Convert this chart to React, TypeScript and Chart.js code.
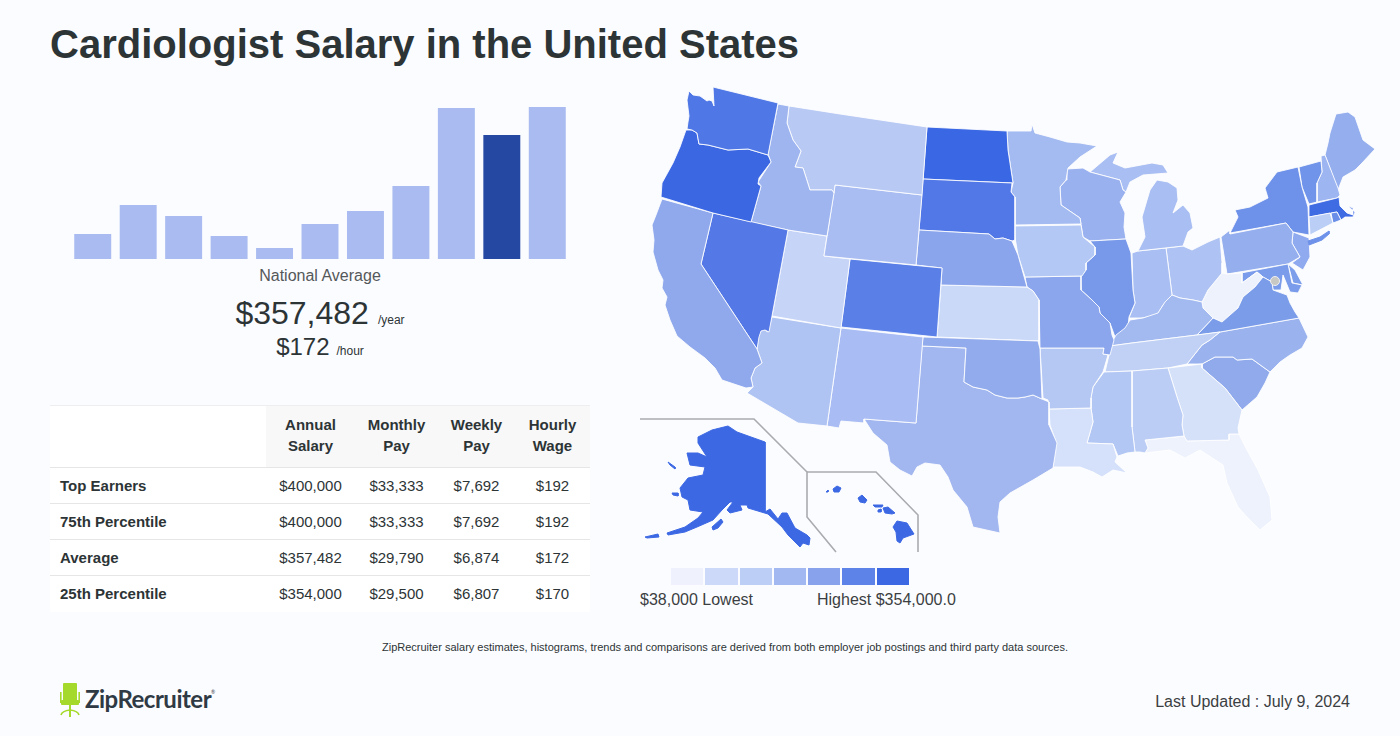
import React, { useEffect, useRef } from "react";
import { Chart, registerables } from "chart.js";

Chart.register(...registerables);

// Histogram
const histogramBins = ["1", "2", "3", "4", "5", "6", "7", "8", "9", "10", "11"];
const histogramCounts = [25, 54, 43, 23, 11, 35, 48, 73, 151, 124, 152];
const highlightedBin = 9;

// Table
const tableColumns = [["Annual", "Salary"], ["Monthly", "Pay"], ["Weekly", "Pay"], ["Hourly", "Wage"]];
const rowLabels = ["Top Earners", "75th Percentile", "Average", "25th Percentile"];
const annualSalary = ["$400,000", "$400,000", "$357,482", "$354,000"];
const monthlyPay = ["$33,333", "$33,333", "$29,790", "$29,500"];
const weeklyPay = ["$7,692", "$7,692", "$6,874", "$6,807"];
const hourlyWage = ["$192", "$192", "$172", "$170"];

// Legend
const legendShades = ["#eff2fd", "#ccd9f8", "#bccdf6", "#a2b8f0", "#88a3ec", "#5d82e8", "#3c68e3"];

// State outlines (map units), x,y pairs
const WA = [689,91,693,95,700,96,707,101,709,100,712,101,714,106,713,87,778,103,768,155,748,149,728,150,708,145,699,144,697,133,692,130,687,129,688,122,689,116,687,100];
const OR = [686,130,692,130,697,133,699,144,708,145,728,150,748,149,768,155,771,162,759,178,758,184,761,186,751,222,713,213,661,197,662,183,673,163,680,147];
const CA = [662,199,713,213,701,264,757,349,762,363,755,368,751,378,753,387,746,388,722,380,715,368,705,358,690,347,677,336,670,320,665,305,667,297,662,288,663,280,658,270,653,252,654,240,652,225,656,215];
const NV = [713,213,788,230,769,332,765,330,761,331,759,337,757,349,701,264];
const ID = [778,104,789,106,787,123,793,140,801,151,795,167,803,168,810,190,832,190,834,193,827,236,788,230,751,222,761,186,758,182,771,162,768,154];
const MT = [789,106,840,114,927,127,922,195,835,185,834,193,832,190,810,190,803,168,795,167,801,151,793,140,787,123];
const WY = [835,185,922,195,916,265,824,256];
const UT = [788,230,827,236,824,256,850,259,841,328,772,316];
const CO = [850,259,942,268,937,337,841,327];
const AZ = [772,317,841,328,827,426,798,423,747,393,753,387,751,378,755,368,762,363,757,349,759,332,763,329,768,332];
const NM = [841,328,923,337,916,423,864,419,864,423,841,421,839,428,827,426];
const OK = [923,337,1038,341,1040,349,1042,399,1033,395,1025,397,1018,398,1007,398,995,395,987,390,973,387,964,382,966,348,922,346];
const TX = [922,346,966,348,964,382,973,387,987,390,995,395,1007,398,1018,398,1025,397,1033,395,1042,399,1049,402,1049,425,1057,443,1053,468,1033,480,1010,493,1000,502,998,517,1000,533,973,527,967,507,953,490,948,477,940,465,925,463,917,467,912,476,900,470,890,462,887,445,873,433,864,419,916,423];
const NE = [919,230,989,234,995,239,1003,238,1012,241,1018,255,1027,287,941,285,942,268,916,265];
const KS = [941,285,1027,287,1033,291,1039,300,1039,341,937,337];
const SD = [923,179,1012,183,1011,192,1015,197,1015,240,1012,241,1003,238,995,239,989,234,919,230];
const ND = [927,127,1007,131,1008,150,1013,183,923,179];
const MN = [1007,131,1031,131,1032,124,1035,133,1050,137,1067,142,1080,143,1097,146,1080,157,1068,168,1066,180,1060,187,1061,205,1080,218,1081,224,1015,225,1015,197,1011,192,1013,183,1008,150];
const IA = [1013,226,1081,225,1083,237,1095,247,1095,255,1086,263,1086,270,1082,276,1025,277,1018,255];
const MO = [1025,277,1081,276,1081,290,1092,300,1099,307,1100,313,1110,323,1112,335,1114,340,1110,355,1103,354,1104,348,1040,348,1039,300,1033,291,1027,287];
const AR = [1040,348,1104,348,1103,354,1108,355,1103,372,1093,387,1091,398,1091,408,1049,409,1048,400,1043,398];
const LA = [1049,409,1091,408,1093,422,1087,443,1113,444,1117,457,1115,462,1127,473,1113,470,1102,477,1093,472,1080,467,1063,467,1053,467,1056,442,1050,425];
const MS = [1104,372,1132,371,1132,427,1135,452,1127,453,1118,456,1113,444,1087,443,1093,422,1091,408,1091,397,1093,387];
const AL = [1132,371,1168,368,1177,397,1183,415,1182,425,1184,436,1145,440,1148,448,1145,453,1140,452,1135,452,1132,427];
const GA = [1168,368,1202,364,1202,368,1210,375,1225,388,1242,410,1238,428,1239,434,1229,434,1229,440,1187,441,1184,436,1182,425,1183,415,1177,397];
const FL = [1145,440,1184,436,1187,441,1229,440,1229,434,1239,434,1247,450,1258,470,1270,497,1272,520,1260,530,1247,517,1238,507,1227,483,1223,465,1200,450,1185,458,1170,450,1145,453,1148,448];
const TN = [1105,372,1109,355,1110,346,1132,343,1197,335,1220,332,1210,340,1202,345,1187,364,1168,368,1132,371];
const KY = [1110,346,1116,335,1125,328,1130,320,1143,318,1158,313,1165,302,1172,295,1180,298,1193,300,1202,302,1203,308,1213,318,1197,335,1132,343];
const IL = [1090,241,1126,239,1131,253,1133,290,1135,303,1129,317,1128,327,1125,330,1123,335,1115,337,1110,323,1100,313,1099,307,1092,300,1081,290,1080,277,1086,270,1086,263,1095,255,1095,247];
const WI = [1067,169,1083,168,1090,172,1120,180,1123,190,1126,192,1120,202,1125,213,1124,227,1126,239,1090,241,1083,237,1080,218,1061,205,1060,187,1066,180];
const MI_UPPER = [1090,172,1110,155,1118,152,1113,163,1125,168,1152,163,1163,165,1168,173,1143,175,1130,182,1126,192,1123,190,1120,180];
const MI_LOWER = [1142,217,1150,190,1157,180,1168,182,1177,188,1178,200,1173,213,1183,205,1190,213,1193,228,1188,232,1183,246,1138,251,1145,237];
const IN = [1132,253,1138,251,1166,248,1172,295,1163,305,1157,315,1142,318,1129,318,1135,303,1133,290];
const OH = [1166,248,1183,246,1192,250,1208,242,1220,237,1222,263,1222,273,1208,290,1202,302,1193,300,1180,298,1172,295];
const WV = [1227,274,1242,273,1242,283,1257,272,1263,277,1255,287,1243,297,1238,308,1222,322,1213,318,1203,308,1202,302,1208,290,1222,273];
const VA = [1213,318,1222,322,1238,308,1243,297,1255,287,1263,277,1272,282,1273,290,1287,295,1290,303,1295,312,1299,318,1220,332,1197,335];
const NC = [1220,332,1299,318,1308,337,1302,348,1290,355,1280,362,1270,372,1252,359,1237,360,1233,357,1215,357,1202,364,1187,364,1202,345,1210,340];
const SC = [1202,364,1215,357,1233,357,1237,360,1252,359,1270,372,1265,383,1257,397,1242,410,1225,388,1210,375,1202,368];
const MD = [1241,273,1288,264,1292,283,1302,285,1298,293,1290,292,1283,275,1281,290,1273,290,1272,282,1263,277,1257,272,1242,283];
const DE = [1288,264,1295,270,1303,285,1293,283];
const PA = [1221,237,1230,230,1230,234,1286,223,1293,232,1292,243,1300,257,1288,264,1227,274];
const NY = [1230,233,1238,217,1235,210,1250,207,1268,198,1265,188,1277,172,1298,167,1302,187,1308,207,1309,235,1293,232,1286,223];
const NY_LONG_ISLAND = [1308,241,1320,237,1329,231,1329,234,1322,240,1309,245];
const NJ = [1293,232,1309,238,1310,257,1303,270,1292,263,1300,257,1292,243];
const CT = [1309,217,1330,213,1333,223,1310,235];
const RI = [1331,213,1337,212,1341,220,1333,223];
const MA = [1309,205,1337,198,1339,197,1340,206,1347,213,1353,215,1353,208,1348,206,1355,212,1353,217,1345,217,1341,220,1337,212,1309,217];
const VT = [1299,167,1321,161,1322,172,1317,183,1317,202,1309,204,1302,187];
const NH = [1321,156,1325,155,1338,188,1340,195,1337,198,1317,202,1317,183,1322,172];
const ME = [1330,133,1336,114,1348,112,1355,117,1363,140,1375,149,1362,163,1355,170,1343,177,1338,190,1325,155,1328,143];
const AK = [698,437,712,430,728,426,737,432,765,442,765,512,770,509,778,519,782,513,787,513,795,528,807,535,810,538,809,545,803,543,800,547,795,542,788,535,782,527,768,514,748,508,747,505,740,505,742,510,730,513,727,510,733,502,730,502,722,510,713,520,697,527,685,532,668,535,667,533,685,527,698,518,703,512,690,510,688,500,682,497,680,488,688,478,703,475,705,467,690,465,687,453,698,453,707,457,698,443];
const AK_KODIAK = [712,527,721,519,723,522,718,528,713,530];
const AK_ALEUTIAN = [645,537,658,534,659,537,647,538];
const AK_LAWRENCE = [668,462,675,467,675,469,670,465];
const AK_NUNIVAK = [672,493,678,493,678,496,673,495];
const HI_BIG = [893,527,897,521,907,523,914,534,903,538,900,543,897,541,896,532];
const HI_MAUI = [883,508,888,507,895,513,892,514,885,513];
const HI_MOLOKAI = [873,505,883,505,882,507,875,507];
const HI_LANAI = [878,510,881,509,881,512,878,512];
const HI_OAHU = [858,498,862,495,867,500,865,503,860,502];
const HI_KAUAI = [833,489,837,486,841,488,839,492,834,492];
const HI_NIIHAU = [826,492,828,490,828,492];
const ALASKA_INSET = [640,419,754,419,807,472,807,517,836,552];
const HAWAII_INSET = [807,472,876,472,918,515,918,552];
const DC_POINT = [1275,281];

const ALASKA_HAWAII = "#3c68e3";
const mapShapes: [number[], string, boolean?][] = [
  [WA, "#4f78e6"], [OR, "#3b67e3"], [CA, "#8fa9ec"], [NV, "#5478e5"], [ID, "#9eb5f0"], [MT, "#b8c9f4"],
  [WY, "#a9bdf2"], [UT, "#c6d4f7"], [CO, "#5a80e8"], [AZ, "#b0c4f3"], [NM, "#a9bcf3"], [OK, "#92abec"],
  [TX, "#a2b7f0"], [NE, "#8aa5ec"], [KS, "#cbd9f8"], [SD, "#5277e6"], [ND, "#3a67e3"], [MN, "#a4bbf1"],
  [IA, "#b3c8f4"], [MO, "#8ba6ec"], [AR, "#b5c8f3"], [LA, "#d5e0fa"], [MS, "#b3c7f4"], [AL, "#bbcdf5"],
  [GA, "#d5e0f9"], [FL, "#eef2fd"], [TN, "#c0d1f5"], [KY, "#a3baf1"], [IL, "#7899e9"], [WI, "#9ab1ef"],
  [MI_UPPER, "#a9bef2"], [MI_LOWER, "#a9bef2"], [IN, "#a9bff3"], [OH, "#aec3f3"], [VA, "#7a9ce9"],
  [WV, "#eef2fd"], [NC, "#9ab3ef"], [SC, "#90aaec"], [MD, "#7a9cea"], [DE, "#7d9eea"], [PA, "#94aeee"],
  [NY, "#6e91e9"], [NY_LONG_ISLAND, "#6e91e9", true], [NJ, "#8faaee"], [CT, "#bbcff6"], [RI, "#6b8fe8"],
  [MA, "#3f6be3"], [VT, "#7094e9"], [NH, "#9db5f0"], [ME, "#94aeee"],
  [AK, ALASKA_HAWAII, true], [AK_KODIAK, ALASKA_HAWAII, true], [AK_ALEUTIAN, ALASKA_HAWAII, true],
  [AK_LAWRENCE, ALASKA_HAWAII, true], [AK_NUNIVAK, ALASKA_HAWAII, true],
  [HI_BIG, ALASKA_HAWAII, true], [HI_MAUI, ALASKA_HAWAII, true], [HI_MOLOKAI, ALASKA_HAWAII, true],
  [HI_LANAI, ALASKA_HAWAII, true], [HI_OAHU, ALASKA_HAWAII, true], [HI_KAUAI, ALASKA_HAWAII, true],
  [HI_NIIHAU, ALASKA_HAWAII, true],
];

const toPoints = (flat: number[]) => {
  const pts: { x: number; y: number }[] = [];
  for (let i = 0; i < flat.length; i += 2) pts.push({ x: flat[i], y: flat[i + 1] });
  return pts;
};
const closed = (flat: number[]) => {
  const pts = toPoints(flat);
  pts.push(pts[0]);
  return pts;
};

const FONT = '"Liberation Sans", Arial, sans-serif';
const BG = "#fbfcff";
const TEXT = "#2d3436";

const abs = (left: number, top: number, extra: React.CSSProperties = {}): React.CSSProperties => ({
  position: "absolute",
  left,
  top,
  whiteSpace: "nowrap",
  ...extra,
});

export default function App() {
  const barRef = useRef<HTMLCanvasElement>(null);
  const mapRef = useRef<HTMLCanvasElement>(null);

  useEffect(() => {
    document.body.style.margin = "0";
    document.body.style.background = BG;
    const bar = new Chart(barRef.current!, {
      type: "bar",
      data: {
        labels: histogramBins,
        datasets: [
          {
            data: histogramCounts,
            backgroundColor: histogramCounts.map((_, i) => (i === highlightedBin ? "#2549a3" : "#a9bbf0")),
            barPercentage: 0.813,
            categoryPercentage: 1,
          },
        ],
      },
      options: {
        animation: false,
        responsive: false,
        layout: { padding: 0 },
        plugins: { legend: { display: false }, tooltip: { enabled: false } },
        scales: {
          x: { display: false },
          y: { display: false, min: 0, max: 159 },
        },
      },
    });
    const datasets: any[] = [
      {
        data: toPoints(DC_POINT),
        showLine: false,
        pointRadius: 4.5,
        pointBackgroundColor: "#c8c8c4",
        pointBorderColor: "#eef0f6",
        pointBorderWidth: 1,
      },
      ...[ALASKA_INSET, HAWAII_INSET].map((inset) => ({
        data: toPoints(inset),
        borderColor: "#a9abae",
        borderWidth: 1.6,
        pointRadius: 0,
        fill: false,
        tension: 0,
      })),
      ...mapShapes.map(([shape, color, solidEdge]) => ({
        data: closed(shape),
        backgroundColor: color,
        borderColor: solidEdge ? color : "rgba(255,255,255,0.85)",
        borderWidth: 1,
        pointRadius: 0,
        tension: 0,
        fill: "shape",
      })),
    ];
    const map = new Chart(mapRef.current!, {
      type: "line",
      data: { datasets },
      options: {
        animation: false,
        responsive: false,
        layout: { padding: 0, autoPadding: false },
        plugins: { legend: { display: false }, tooltip: { enabled: false } },
        scales: {
          x: { type: "linear", display: false, min: 630, max: 1390 },
          y: { type: "linear", display: false, min: 80, max: 560, reverse: true },
        },
      },
    });
    return () => {
      bar.destroy();
      map.destroy();
    };
  }, []);

  const cellStyle: React.CSSProperties = { textAlign: "center", padding: 0, fontSize: 15, color: TEXT };
  return (
    <div
      style={{
        position: "absolute",
        left: 0,
        top: 0,
        width: 1400,
        height: 736,
        overflow: "hidden",
        background: BG,
        fontFamily: FONT,
        color: TEXT,
      }}
    >
      <div style={abs(50, 21, { fontSize: 40, fontWeight: 700, lineHeight: "46px" })}>
        Cardiologist Salary in the United States
      </div>

      <canvas ref={barRef} width={500} height={159} style={abs(70, 100, { display: "block", width: 500, height: 159 })} />
      <div style={abs(50, 267, { width: 540, textAlign: "center", fontSize: 16, lineHeight: "18px", color: "#55585a" })}>
        National Average
      </div>
      <div style={abs(50, 294, { width: 540, textAlign: "center", lineHeight: "38px" })}>
        <span style={{ fontSize: 32 }}>$357,482</span>
        <span style={{ fontSize: 12, marginLeft: 9 }}>/year</span>
      </div>
      <div style={abs(50, 332, { width: 540, textAlign: "center", lineHeight: "30px" })}>
        <span style={{ fontSize: 24 }}>$172</span>
        <span style={{ fontSize: 12, marginLeft: 7 }}>/hour</span>
      </div>

      <table
        style={{
          position: "absolute",
          left: 50,
          top: 405,
          width: 540,
          borderCollapse: "collapse",
          tableLayout: "fixed",
          background: "#ffffff",
          borderTop: "1px solid #eeeeee",
        }}
      >
        <colgroup>
          <col style={{ width: 216 }} />
          <col style={{ width: 89 }} />
          <col style={{ width: 83 }} />
          <col style={{ width: 77 }} />
          <col style={{ width: 75 }} />
        </colgroup>
        <thead>
          <tr style={{ height: 62 }}>
            <th style={{ padding: 0, background: "#ffffff" }} />
            {tableColumns.map((c) => (
              <th key={c[0]} style={{ ...cellStyle, background: "#f8f8f8", fontWeight: 700, lineHeight: "21px", paddingBottom: 4 }}>
                {c[0]}
                <br />
                {c[1]}
              </th>
            ))}
          </tr>
        </thead>
        <tbody>
          {rowLabels.map((label, i) => (
            <tr key={label} style={{ height: 36, borderTop: "1px solid #e6e6e6" }}>
              <td style={{ ...cellStyle, textAlign: "left", paddingLeft: 10, fontWeight: 700 }}>{label}</td>
              <td style={cellStyle}>{annualSalary[i]}</td>
              <td style={cellStyle}>{monthlyPay[i]}</td>
              <td style={cellStyle}>{weeklyPay[i]}</td>
              <td style={cellStyle}>{hourlyWage[i]}</td>
            </tr>
          ))}
        </tbody>
      </table>

      <canvas ref={mapRef} width={760} height={480} style={abs(630, 80, { display: "block", width: 760, height: 480 })} />

      <div style={abs(671, 568, { display: "flex", gap: 2 })}>
        {legendShades.map((c) => (
          <div key={c} style={{ width: 32.3, height: 17, background: c }} />
        ))}
      </div>
      <div style={abs(640, 591, { fontSize: 16, lineHeight: "18px", color: "#3b3f42" })}>$38,000 Lowest</div>
      <div style={abs(817, 591, { fontSize: 16, lineHeight: "18px", color: "#3b3f42" })}>Highest $354,000.0</div>

      <div style={abs(0, 640, { left: 50, width: 1350, textAlign: "center", fontSize: 11, lineHeight: "14px" })}>
        ZipRecruiter salary estimates, histograms, trends and comparisons are derived from both employer job postings and third party data sources.
      </div>

      <svg width={24} height={36} viewBox="0 0 24 36" style={abs(58, 682)}>
        <g fill="#a5d92b" stroke="none">
          <rect x={5} y={1} width={14} height={18} rx={1} />
          <rect x={3} y={18} width={18} height={5} rx={1} />
          <rect x={2} y={10} width={1.6} height={11} />
          <rect x={20.4} y={10} width={1.6} height={11} />
          <rect x={11} y={23} width={2} height={12} />
        </g>
        <path d="M3 33 Q4 29 12 28 Q20 29 21 33" fill="none" stroke="#a5d92b" strokeWidth={1.6} />
      </svg>
      <div style={abs(85, 685, { fontFamily: "Lato", fontSize: 24, fontWeight: 700, lineHeight: "28px", letterSpacing: -0.5, color: "#2f3a44" })}>
        ZipRecruiter<sup style={{ fontSize: 5, verticalAlign: "top", lineHeight: "14px", fontWeight: 400 }}>®</sup>
      </div>

      <div style={{ position: "absolute", right: 50, top: 693, fontSize: 16, lineHeight: "18px", color: "#3b3f42" }}>
        Last Updated : July 9, 2024
      </div>
    </div>
  );
}
